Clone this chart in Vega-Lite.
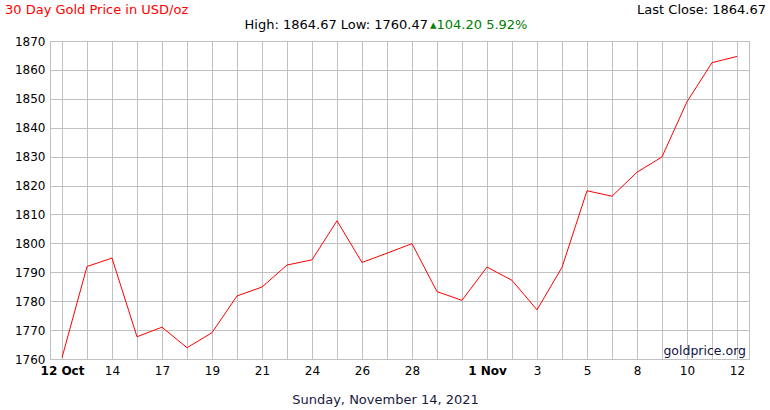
{
  "$schema": "https://vega.github.io/schema/vega-lite/v6.json",
  "width": 699,
  "height": 318,
  "autosize": "none",
  "padding": {"left": 50, "top": 41, "right": 21, "bottom": 51},
  "background": "white",
  "config": {
    "font": "DejaVu Sans",
    "view": {"stroke": "#c0c0c0", "strokeWidth": 1},
    "axis": {"gridColor": "#c0c0c0", "gridOpacity": 1, "domain": false, "ticks": false, "labelFont": "DejaVu Sans", "labelFontSize": 12, "labelColor": "#000000", "labelOverlap": false}
  },
  "resolve": {"axis": {"x": "independent", "y": "independent"}},
  "data": {
    "values": [
      {"d": "12 Oct", "price": 1760.47},
      {"d": "13", "price": 1792.0},
      {"d": "14", "price": 1794.9},
      {"d": "15", "price": 1767.7},
      {"d": "17", "price": 1771.0},
      {"d": "18", "price": 1763.9},
      {"d": "19", "price": 1769.1},
      {"d": "20", "price": 1781.8},
      {"d": "21", "price": 1784.9},
      {"d": "22", "price": 1792.5},
      {"d": "24", "price": 1794.3},
      {"d": "25", "price": 1807.8},
      {"d": "26", "price": 1793.4},
      {"d": "27", "price": 1796.6},
      {"d": "28", "price": 1799.9},
      {"d": "29", "price": 1783.3},
      {"d": "31", "price": 1780.3},
      {"d": "1 Nov", "price": 1791.8},
      {"d": "2", "price": 1787.2},
      {"d": "3", "price": 1777.0},
      {"d": "4", "price": 1791.7},
      {"d": "5", "price": 1818.2},
      {"d": "7", "price": 1816.3},
      {"d": "8", "price": 1824.6},
      {"d": "9", "price": 1829.9},
      {"d": "10", "price": 1849.0},
      {"d": "11", "price": 1862.5},
      {"d": "12", "price": 1864.67}
    ]
  },
  "layer": [
    {
      "mark": {"type": "line", "color": "#ff0000", "strokeWidth": 1},
      "encoding": {
        "x": {
          "field": "d",
          "type": "ordinal",
          "sort": null,
          "scale": {"type": "point", "padding": 0.48},
          "axis": {
            "title": "Sunday, November 14, 2021",
            "titleFont": "DejaVu Sans",
            "titleFontSize": 13,
            "titleFontWeight": "normal",
            "titleColor": "#1a1a40",
            "titlePadding": 17,
            "titleX": 335,
            "labelAngle": 0,
            "labelPadding": 6,
            "labelOverlap": false,
            "grid": true,
            "labelExpr": "test(/^(13|15|18|20|22|25|27|29|31|2|4|7|9|11)$/, datum.value) ? '' : datum.value",
            "labelFontWeight": {"condition": {"test": "datum.value == '12 Oct' || datum.value == '1 Nov'", "value": "bold"}, "value": "normal"}
          }
        },
        "y": {
          "field": "price",
          "type": "quantitative",
          "scale": {"domain": [1760, 1870], "nice": false, "zero": false},
          "axis": {"title": null, "format": "d", "labelOverlap": false, "values": [1760, 1770, 1780, 1790, 1800, 1810, 1820, 1830, 1840, 1850, 1860, 1870], "labelPadding": 5, "grid": true}
        }
      }
    },
    {
      "data": {"values": [{}]},
      "mark": {"type": "text", "text": "goldprice.org", "align": "right", "baseline": "middle", "dx": 9, "dy": -8, "fontSize": 12.5, "fontWeight": "normal", "fill": "#111144"},
      "encoding": {"x": {"datum": "12", "axis": null}, "y": {"datum": 1760, "type": "quantitative", "axis": null}}
    },
    {
      "data": {"values": [{}]},
      "mark": {"type": "text", "text": "30 Day Gold Price in USD/oz", "align": "left", "baseline": "middle", "dx": -57, "dy": -31, "fontSize": 13, "fontWeight": "normal", "fill": "#ff0000"},
      "encoding": {"x": {"datum": "12 Oct", "axis": null}, "y": {"datum": 1870, "type": "quantitative", "axis": null}}
    },
    {
      "data": {"values": [{}]},
      "mark": {"type": "text", "text": "Last Close: 1864.67", "align": "right", "baseline": "middle", "dx": 29, "dy": -31, "fontSize": 13, "fontWeight": "normal", "fill": "#000000"},
      "encoding": {"x": {"datum": "12", "axis": null}, "y": {"datum": 1870, "type": "quantitative", "axis": null}}
    },
    {
      "data": {"values": [{}]},
      "mark": {"type": "text", "text": "High: 1864.67 Low: 1760.47", "align": "right", "baseline": "middle", "dx": -9, "dy": -16, "fontSize": 13, "fontWeight": "normal", "fill": "#000000"},
      "encoding": {"x": {"datum": "29", "axis": null}, "y": {"datum": 1870, "type": "quantitative", "axis": null}}
    },
    {
      "data": {"values": [{}]},
      "mark": {"type": "text", "text": "▴104.20 5.92%", "align": "left", "baseline": "middle", "dx": -7, "dy": -16, "fontSize": 13, "fontWeight": "normal", "fill": "#008000"},
      "encoding": {"x": {"datum": "29", "axis": null}, "y": {"datum": 1870, "type": "quantitative", "axis": null}}
    }
  ]
}
